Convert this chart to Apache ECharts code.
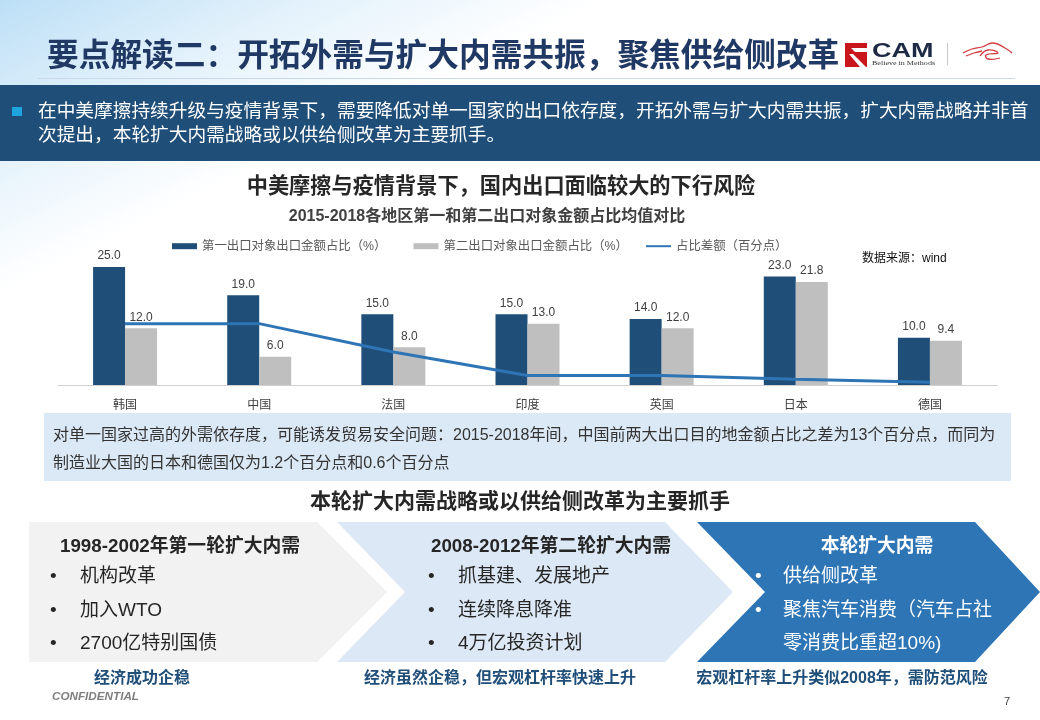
<!DOCTYPE html>
<html>
<head>
<meta charset="utf-8">
<style>html,body{margin:0;padding:0;background:#fff}#main{width:1040px;height:720px}</style>
<script src="https://cdn.jsdelivr.net/npm/echarts@6/dist/echarts.min.js"></script>
</head>
<body>
<div id="main"></div>
<script>
const categories = ['韩国', '中国', '法国', '印度', '英国', '日本', '德国'];
const firstShare = [25.0, 19.0, 15.0, 15.0, 14.0, 23.0, 10.0];
const secondShare = [12.0, 6.0, 8.0, 13.0, 12.0, 21.8, 9.4];
const shareGap = [13.0, 13.0, 7.0, 2.0, 2.0, 1.2, 0.6];
const seriesNames = ['第一出口对象出口金额占比（%）', '第二出口对象出口金额占比（%）', '占比差额（百分点）'];

const FONT = '"Liberation Sans","Noto Sans CJK SC",sans-serif';
const NAVY = '#1f4e79';
const BLUE = '#2e75b6';

function text(x, y, str, size, fill, opts) {
    opts = opts || {};
    return {
        type: 'text', x: x, y: y, z: 5,
        scaleX: opts.scaleX || 1,
        style: {
            text: str, fill: fill,
            font: (opts.italic ? 'italic ' : '') + (opts.bold ? 'bold ' : '') + size + 'px ' + (opts.family || FONT),
            textAlign: opts.align || 'left', textVerticalAlign: 'middle'
        }
    };
}
function rect(x, y, w, h, fill) {
    return { type: 'rect', z: 1, shape: { x: x, y: y, width: w, height: h }, style: { fill: fill } };
}
function poly(points, fill) {
    return { type: 'polygon', z: 1, shape: { points: points }, style: { fill: fill } };
}
function curve(points, color) {
    return { type: 'polyline', z: 5, shape: { points: points, smooth: 0.5 }, style: { fill: 'none', stroke: color, lineWidth: 1.3 } };
}

const graphics = [
    // 左上角浅蓝底色
    {
        type: 'rect', z: 0, shape: { x: 0, y: 0, width: 720, height: 360 },
        style: {
            fill: new echarts.graphic.LinearGradient(0, 0, 0.16, 0.66, [
                { offset: 0, color: '#bcdff6' }, { offset: 0.5, color: '#e2f1fb' }, { offset: 1, color: '#ffffff' }
            ])
        }
    },
    text(47, 57, '要点解读二：开拓外需与扩大内需共振，聚焦供给侧改革', 31.7, '#1f3864', { bold: true }),
    rect(38, 78, 977, 1, '#c9d9ea'),
    // logo
    rect(845, 43, 22, 24, '#c8161d'),
    poly([[851, 48], [867, 48], [867, 52], [855, 52]], '#ffffff'),
    poly([[849, 54], [853, 54], [866, 67], [860, 67]], '#ffffff'),
    text(872, 51, 'CAM', 20, '#1c2a44', { bold: true, scaleX: 1.35 }),
    text(872, 63, 'Believe in Methods', 7, '#333333', { family: '"Liberation Serif",serif', scaleX: 1.15 }),
    rect(947, 43, 1, 22, '#c8c8c8'),
    curve([[963, 53], [972, 49], [982, 47], [993, 43], [1005, 48], [1012, 53]], '#d23b3f'),
    curve([[966, 56], [974, 53], [982, 51]], '#d23b3f'),
    curve([[980, 56], [988, 50], [998, 53], [986, 55], [988, 59], [1000, 58]], '#d23b3f'),
    // 顶部结论条
    rect(0, 85, 1040, 76, NAVY),
    rect(12, 107, 10, 9, '#1ea5e0'),
    text(38, 112, '在中美摩擦持续升级与疫情背景下，需要降低对单一国家的出口依存度，开拓外需与扩大内需共振，扩大内需战略并非首', 18.7, '#ffffff'),
    text(38, 136, '次提出，本轮扩大内需战略或以供给侧改革为主要抓手。', 18.7, '#ffffff'),
    text(501, 187, '中美摩擦与疫情背景下，国内出口面临较大的下行风险', 21.2, '#262626', { bold: true, align: 'center' }),
    text(487, 217, '2015-2018各地区第一和第二出口对象金额占比均值对比', 16, '#404040', { bold: true, align: 'center' }),
    text(862, 259, '数据来源：wind', 12, '#111111'),
    // 说明框
    rect(44, 413, 967, 68, '#dbe8f5'),
    text(53, 436, '对单一国家过高的外需依存度，可能诱发贸易安全问题：2015-2018年间，中国前两大出口目的地金额占比之差为13个百分点，而同为', 16, '#333333'),
    text(53, 464, '制造业大国的日本和德国仅为1.2个百分点和0.6个百分点', 16, '#333333'),
    text(520, 502, '本轮扩大内需战略或以供给侧改革为主要抓手', 21, '#262626', { bold: true, align: 'center' }),
    // 三个箭头
    poly([[29, 522], [317, 522], [387, 592], [317, 662], [29, 662]], '#f2f2f2'),
    poly([[337, 522], [665, 522], [733, 592], [665, 662], [337, 662], [405, 592]], '#dce8f5'),
    poly([[697, 522], [975, 522], [1040, 592], [975, 662], [697, 662], [765, 592]], BLUE),
    text(180, 547, '1998-2002年第一轮扩大内需', 18.8, '#262626', { bold: true, align: 'center' }),
    text(551, 547, '2008-2012年第二轮扩大内需', 18.8, '#262626', { bold: true, align: 'center' }),
    text(877, 547, '本轮扩大内需', 18.8, '#ffffff', { bold: true, align: 'center' }),
    text(50, 577, '•', 19, '#262626'), text(80, 577, '机构改革', 19, '#262626'),
    text(50, 611, '•', 19, '#262626'), text(80, 611, '加入WTO', 19, '#262626'),
    text(50, 644, '•', 19, '#262626'), text(80, 644, '2700亿特别国债', 19, '#262626'),
    text(428, 577, '•', 19, '#262626'), text(458, 577, '抓基建、发展地产', 19, '#262626'),
    text(428, 611, '•', 19, '#262626'), text(458, 611, '连续降息降准', 19, '#262626'),
    text(428, 644, '•', 19, '#262626'), text(458, 644, '4万亿投资计划', 19, '#262626'),
    text(755, 577, '•', 19, '#ffffff'), text(783, 577, '供给侧改革', 19, '#ffffff'),
    text(755, 611, '•', 19, '#ffffff'), text(783, 611, '聚焦汽车消费（汽车占社', 19, '#ffffff'),
    text(783, 644, '零消费比重超10%)', 19, '#ffffff'),
    text(142, 679, '经济成功企稳', 16, NAVY, { bold: true, align: 'center' }),
    text(500, 679, '经济虽然企稳，但宏观杠杆率快速上升', 16, NAVY, { bold: true, align: 'center' }),
    text(842, 679, '宏观杠杆率上升类似2008年，需防范风险', 16, NAVY, { bold: true, align: 'center' }),
    text(52, 697, 'CONFIDENTIAL', 11.7, '#7f7f7f', { italic: true, bold: true }),
    text(1004, 702, '7', 11, '#404040')
];

const labelStyle = { show: true, position: 'top', distance: 5, fontSize: 12, color: '#404040', fontFamily: FONT, formatter: p => p.value.toFixed(1) };
const legendBase = {
    top: 240, padding: 0, itemWidth: 25, itemHeight: 6, itemGap: 27,
    textStyle: { fontSize: 12.4, color: '#595959', fontFamily: FONT }
};

const chart = echarts.init(document.getElementById('main'), null, { renderer: 'canvas' });
chart.setOption({
    animation: false,
    textStyle: { fontFamily: FONT },
    graphic: graphics,
    // 第三项间距比前两项小，拆成两个图例
    legend: [
        Object.assign({}, legendBase, {
            left: 172,
            data: [{ name: seriesNames[0], icon: 'rect' }, { name: seriesNames[1], icon: 'rect' }]
        }),
        Object.assign({}, legendBase, {
            left: 645,
            data: [{ name: seriesNames[2], itemStyle: { opacity: 0 } }]
        })
    ],
    grid: { left: 58, right: 43, top: 243.4, bottom: 335 },
    xAxis: {
        type: 'category', data: categories,
        axisTick: { show: false },
        axisLine: { lineStyle: { color: '#d0d0d0', width: 1 } },
        axisLabel: { fontSize: 12, color: '#404040', margin: 15, fontFamily: FONT }
    },
    yAxis: { type: 'value', min: 0, max: 30, show: false, splitLine: { show: false } },
    series: [
        { name: seriesNames[0], type: 'bar', data: firstShare, barWidth: 32, barGap: 0, itemStyle: { color: NAVY }, label: labelStyle },
        { name: seriesNames[1], type: 'bar', data: secondShare, barWidth: 32, barGap: 0, itemStyle: { color: '#bfbfbf' }, label: labelStyle },
        { name: seriesNames[2], type: 'line', data: shareGap, symbol: 'none', z: 4, lineStyle: { color: BLUE, width: 3 }, itemStyle: { color: BLUE } }
    ]
});
</script>
</body>
</html>
